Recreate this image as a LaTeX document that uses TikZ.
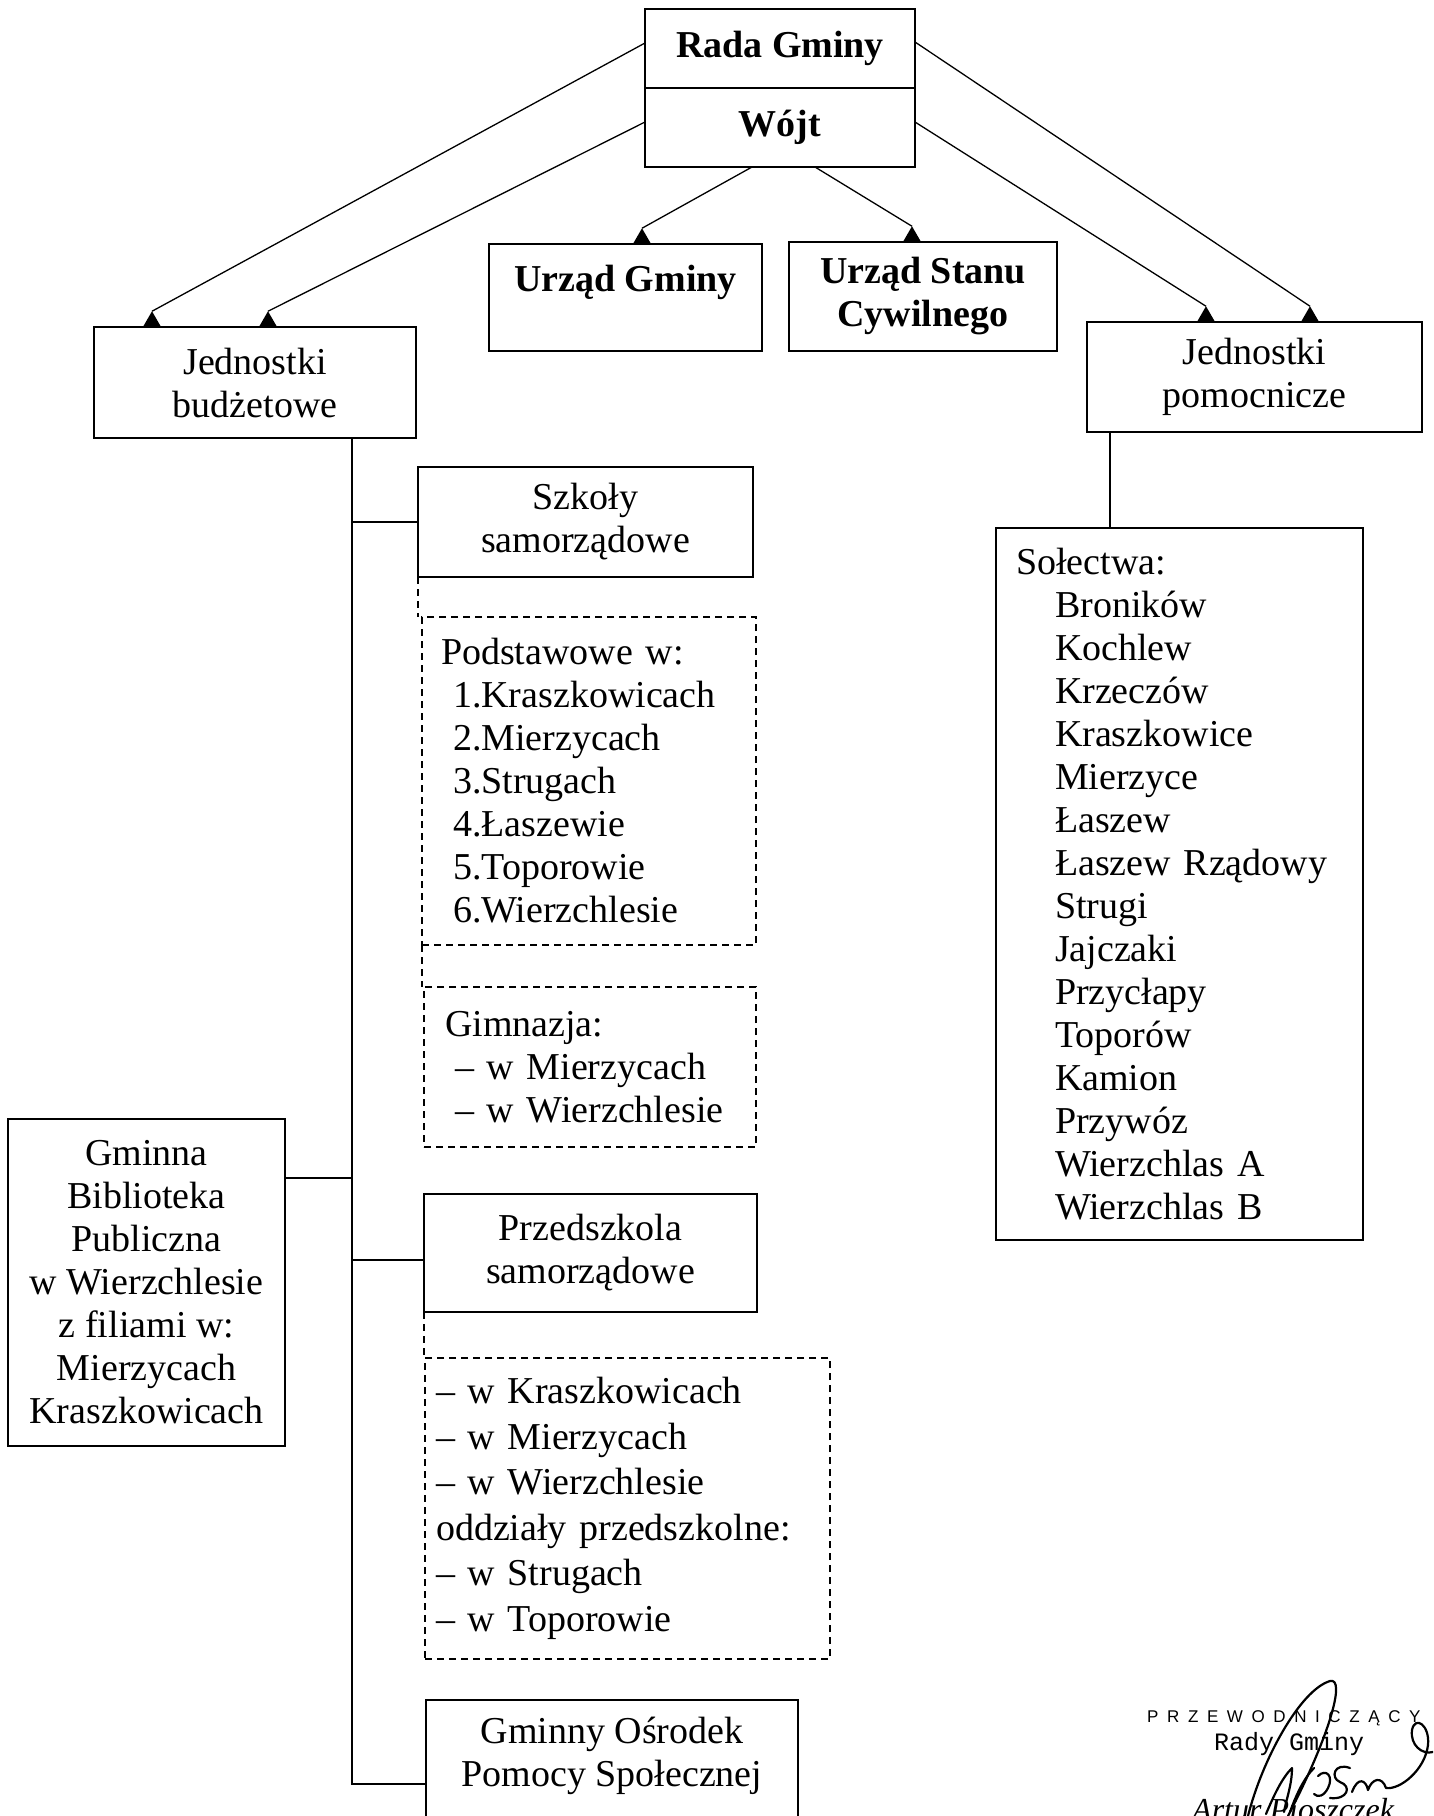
\documentclass[tikz,border=0pt]{standalone}
\usepackage{fontspec}
\setmainfont{Liberation Serif}
\newfontfamily\sigsans{Liberation Sans}
\newfontfamily\sigmono{Liberation Mono}
\usetikzlibrary{shapes.geometric}
\newcommand\sigsp{\hspace{8.6pt}}
\begin{document}
\begin{tikzpicture}[x=1pt,y=-1pt,
  box/.style={draw, line width=1.6pt, inner sep=0pt, outer sep=0pt, align=center, font=\fontsize{38}{43}\selectfont},
  bold/.style={font=\fontsize{38}{43}\selectfont\bfseries},
  dbox/.style={box, dash pattern=on 7pt off 5pt, line width=1.4pt},
  txt/.style={inner sep=0pt, align=center, font=\fontsize{38}{43}\selectfont},
  conn/.style={line width=1.3pt},
  dconn/.style={line width=1.3pt, dash pattern=on 7pt off 5pt},
  ahead/.style={regular polygon, regular polygon sides=3, fill=black, draw=none, inner sep=0pt, outer sep=0pt, minimum size=21pt},
  sig/.style={line width=2.2pt, line cap=round, line join=round},
]
\useasboundingbox (0,0) rectangle (1433,1816);
\fill[white] (0,0) rectangle (1433,1816);
\clip (0,0) rectangle (1433,1816);

% top boxes
\node[box, bold, minimum width=270pt, minimum height=79pt] (rada) at (780,48.5) {Rada Gminy};
\node[box, bold, minimum width=270pt, minimum height=79pt] (wojt) at (780,127.5) {Wójt};
\node[box, minimum width=273pt, minimum height=107pt] (ug) at (625.5,297.5) {};
\node[txt, bold] (ugt) at (625.5,282) {Urząd Gminy};
\node[box, bold, minimum width=268pt, minimum height=109pt] (usc) at (923,296.5) {Urząd Stanu\\Cywilnego};
\node[box, minimum width=322pt, minimum height=111pt] (jb) at (255,382.5) {Jednostki\\budżetowe};
\node[box, minimum width=335pt, minimum height=110pt] (jp) at (1254.5,377) {Jednostki\\pomocnicze};

% arrow heads
\node[ahead, anchor=south] (a1) at (152,327) {};
\node[ahead, anchor=south] (a2) at (268,327) {};
\node[ahead, anchor=south] (a3) at (642,244) {};
\node[ahead, anchor=south] (a4) at (912,242) {};
\node[ahead, anchor=south] (a5) at (1206,322) {};
\node[ahead, anchor=south] (a6) at (1310,322) {};

\draw[conn] ([yshift=5.5pt]rada.west) -- (a1.corner 1);
\draw[conn] ([yshift=5.5pt]wojt.west) -- (a2.corner 1);
\draw[conn] ([xshift=-28pt]wojt.south) -- (a3.corner 1);
\draw[conn] ([xshift=35pt]wojt.south) -- (a4.corner 1);
\draw[conn] ([yshift=5.5pt]wojt.east) -- (a5.corner 1);
\draw[conn] ([yshift=6.5pt]rada.east) -- (a6.corner 1);

% left column
\node[box, minimum width=335pt, minimum height=110pt] (szk) at (585.5,522) {Szkoły\\samorządowe};
\node[dbox, minimum width=334pt, minimum height=328pt, text width=296pt, inner xsep=19pt, align=left] (pods) at (589,781)
  {Podstawowe w:\\\hspace*{12pt}1.Kraszkowicach\\\hspace*{12pt}2.Mierzycach\\\hspace*{12pt}3.Strugach\\\hspace*{12pt}4.Łaszewie\\\hspace*{12pt}5.Toporowie\\\hspace*{12pt}6.Wierzchlesie};
\node[dbox, minimum width=332pt, minimum height=160pt, text width=290pt, inner xsep=21pt, align=left] (gimn) at (590,1067)
  {Gimnazja:\\\hspace*{10pt}– w Mierzycach\\\hspace*{10pt}– w Wierzchlesie};
\node[box, minimum width=277pt, minimum height=327pt] (bibl) at (146.5,1282.5)
  {Gminna\\Biblioteka\\Publiczna\\w Wierzchlesie\\z filiami w:\\Mierzycach\\Kraszkowicach};
\node[box, minimum width=333pt, minimum height=118pt] (przed) at (590.5,1253) {Przedszkola\\samorządowe};
\node[dbox, minimum width=405pt, minimum height=301pt, text width=383pt, inner xsep=11pt, align=left, font=\fontsize{38}{45.5}\selectfont] (plist) at (627.5,1508.5)
  {– w Kraszkowicach\\– w Mierzycach\\– w Wierzchlesie\\oddziały przedszkolne:\\– w Strugach\\– w Toporowie};
\node[box, minimum width=372pt, minimum height=168pt] (gops) at (612,1784) {};
\node[txt] (gopst) at (612,1756) {Gminny Ośrodek\\Pomocy Społecznej};

% right column
\node[box, minimum width=367pt, minimum height=712pt, text width=327pt, inner xsep=20pt, align=left] (sol) at (1179.5,884)
  {Sołectwa:\\\hspace*{39pt}Broników\\\hspace*{39pt}Kochlew\\\hspace*{39pt}Krzeczów\\\hspace*{39pt}Kraszkowice\\\hspace*{39pt}Mierzyce\\\hspace*{39pt}Łaszew\\\hspace*{39pt}Łaszew Rządowy\\\hspace*{39pt}Strugi\\\hspace*{39pt}Jajczaki\\\hspace*{39pt}Przycłapy\\\hspace*{39pt}Toporów\\\hspace*{39pt}Kamion\\\hspace*{39pt}Przywóz\\\hspace*{39pt}Wierzchlas A\\\hspace*{39pt}Wierzchlas B};

% connectors
\coordinate (tr) at (352,0);
\coordinate (sc) at (1110,0);
\coordinate (bb) at ([yshift=104.5pt]bibl.east);
\coordinate (pb) at ([yshift=-7pt]przed.west);
\draw[conn] (jb.south -| tr) -- (gops.west -| tr) -- (gops.west);
\draw[conn] (szk.west -| tr) -- (szk.west);
\draw[conn] (bb) -- (bb -| tr);
\draw[conn] (pb -| tr) -- (pb);
\draw[conn] (jp.south -| sc) -- (sol.north -| sc);
\draw[dconn] (szk.south west) -- (szk.south west |- pods.north);
\draw[dconn] (pods.south west) -- (pods.south west |- gimn.north);
\draw[dconn] (przed.south west) -- (przed.south west |- plist.north);

% signature block
\node[inner sep=0pt, anchor=base west, font=\sigsans\fontsize{17}{20}\selectfont] (przew) at (1147,1722)
  {P\sigsp R\sigsp Z\sigsp E\sigsp W\sigsp O\sigsp D\sigsp N\sigsp I\sigsp C\sigsp Z\sigsp Ą\sigsp C\sigsp Y};
\node[inner sep=0pt, anchor=base west, font=\sigmono\fontsize{25}{28}\selectfont] (rady) at (1214,1750) {Rady Gminy};
\node[inner sep=0pt, anchor=base west, font=\fontsize{32}{36}\selectfont\itshape] (name) at (1192,1820) {Artur Pioszczek};
\draw[sig] (1248,1816) .. controls (1262,1760) and (1300,1690) .. (1330,1681)
  .. controls (1346,1677) and (1330,1735) .. (1288,1816);
\draw[sig] (1266,1814) .. controls (1274,1795) and (1282,1778) .. (1292,1768)
  .. controls (1292,1785) and (1286,1800) .. (1284,1812);
\draw[sig] (1290,1812) .. controls (1296,1795) and (1304,1778) .. (1314,1768);
\draw[sig] (1318,1776) .. controls (1326,1768) and (1334,1776) .. (1328,1788)
  .. controls (1324,1796) and (1318,1798) .. (1314,1794);
\draw[sig] (1350,1768) .. controls (1334,1762) and (1330,1778) .. (1340,1782)
  .. controls (1352,1786) and (1348,1800) .. (1330,1798);
\draw[sig] (1352,1792) .. controls (1358,1776) and (1366,1780) .. (1368,1790)
  .. controls (1372,1778) and (1382,1776) .. (1386,1788)
  .. controls (1400,1790) and (1425,1770) .. (1428,1745)
  .. controls (1430,1725) and (1415,1715) .. (1412,1730)
  .. controls (1410,1745) and (1422,1755) .. (1433,1752);
\end{tikzpicture}
\end{document}
